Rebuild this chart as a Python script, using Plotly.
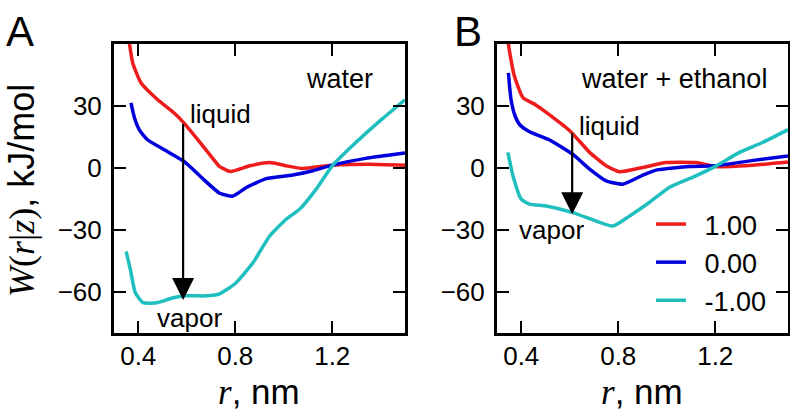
import plotly.graph_objects as go

# ---------------- data ----------------
rA_red = [0.35, 0.363, 0.377, 0.411, 0.479, 0.548, 0.589, 0.657, 0.712, 0.736, 0.78, 0.86, 0.942, 1.01, 1.078, 1.2, 1.352, 1.5]
wA_red = [68, 60.6, 50.9, 41.2, 33.1, 26.6, 21.7, 12, 3.9, 0.6, -1.8, 1, 2.6, 1, -0.3, 1.3, 1.8, 1.3]
rA_blue = [0.37, 0.385, 0.404, 0.438, 0.507, 0.589, 0.671, 0.736, 0.79, 0.846, 0.928, 1.037, 1.12, 1.2, 1.338, 1.5]
wA_blue = [31.5, 24, 18.5, 13.6, 8.8, 3.1, -5.8, -12.3, -13.7, -9.5, -5.2, -3.5, -1.4, 1.3, 4.6, 7.2]
rA_cyan = [0.35, 0.367, 0.388, 0.42, 0.478, 0.544, 0.6, 0.683, 0.736, 0.8, 0.873, 0.942, 1.01, 1.065, 1.133, 1.2, 1.283, 1.406, 1.5]
wA_cyan = [-40.5, -49, -60.5, -65.3, -65.3, -62.9, -62, -62, -61, -56, -46, -33, -24.9, -20.1, -10.4, 1, 10.7, 23.7, 33]

rB_red = [0.345, 0.348, 0.371, 0.407, 0.46, 0.503, 0.6, 0.682, 0.75, 0.805, 0.902, 0.997, 1.12, 1.2, 1.327, 1.5]
wB_red = [66, 59.3, 44.7, 34, 30.5, 26.9, 18, 7.5, 1, -1.9, 0.2, 2.6, 2.6, 0.7, 1, 2.8]
rB_blue = [0.347, 0.358, 0.375, 0.393, 0.434, 0.517, 0.613, 0.682, 0.75, 0.819, 0.902, 0.96, 1.093, 1.2, 1.35, 1.5]
wB_blue = [46, 33, 25, 21, 17.5, 13.5, 6.5, -0.6, -6.3, -7.9, -3.5, -1, 0.7, 1, 3.5, 5.8]
rB_cyan = [0.345, 0.366, 0.4, 0.434, 0.503, 0.613, 0.709, 0.778, 0.847, 0.928, 1.01, 1.12, 1.2, 1.3, 1.395, 1.5]
wB_cyan = [7.5, -3.9, -15.2, -17.6, -18.5, -21.7, -25.8, -28.2, -23.3, -16.8, -9.5, -3.9, 0.7, 7.5, 12.3, 18.5]

series_names = ["1.00", "0.00", "-1.00"]
colors = ["#ee1c1c", "#0000dd", "#20bfbf"]

x_ticks = [0.4, 0.8, 1.2]
y_ticks = [30, 0, -30, -60]
x_range = [0.3, 1.5]
y_range = [-80, 60]

# arrows: (x, y_start, y_end)
arrowA = (0.585, 22, -64)
arrowB = (0.61, 17.5, -22.5)

FONT = "Liberation Sans, Arial, Helvetica, sans-serif"
SERIF = "Liberation Serif, Times New Roman, serif"

fig = go.Figure()

panelA = [(rA_red, wA_red), (rA_blue, wA_blue), (rA_cyan, wA_cyan)]
panelB = [(rB_red, wB_red), (rB_blue, wB_blue), (rB_cyan, wB_cyan)]

for (r, w), name, c in zip(panelA, series_names, colors):
    fig.add_trace(go.Scatter(x=r, y=w, mode="lines", name=name, showlegend=False,
                             line=dict(color=c, width=3.5, shape="spline", smoothing=0.5),
                             xaxis="x", yaxis="y"))
for (r, w), name, c in zip(panelB, series_names, colors):
    fig.add_trace(go.Scatter(x=r, y=w, mode="lines", name="\u2002" + name, showlegend=True,
                             line=dict(color=c, width=3.5, shape="spline", smoothing=0.5),
                             xaxis="x2", yaxis="y2"))

W = 790
H = 412

def px(x):
    return x / W
def py(y):
    return 1 - y / H
def dom_x(a, b):
    return [px(a), px(b)]
def dom_y(top, bottom):
    return [py(bottom), py(top)]

axis_common = dict(showgrid=False, zeroline=False, showline=True, linecolor="black", linewidth=3,
                   mirror="ticks", ticks="inside", ticklen=12, tickwidth=2, tickcolor="black",
                   automargin=False,
                   tickfont=dict(family=FONT, size=26, color="black"))

fig.update_layout(
    template="none",
    width=W, height=H, margin=dict(l=0, r=0, t=0, b=0, pad=0),
    paper_bgcolor="white", plot_bgcolor="white",
    xaxis=dict(domain=dom_x(114, 405), range=x_range, tickvals=x_ticks, ticktext=[f"{v:.1f}" for v in x_ticks],
               anchor="y", ticklabelstandoff=-2, **axis_common),
    yaxis=dict(domain=dom_y(44, 333), range=y_range, tickvals=y_ticks, anchor="x", ticklabelstandoff=4, **axis_common),
    xaxis2=dict(domain=dom_x(497, 788), range=x_range, tickvals=x_ticks, ticktext=[f"{v:.1f}" for v in x_ticks],
                anchor="y2", ticklabelstandoff=-2, **axis_common),
    yaxis2=dict(domain=dom_y(44, 333), range=y_range, tickvals=y_ticks, anchor="x2", ticklabelstandoff=4, **axis_common),
    legend=dict(x=px(651), y=py(200), xanchor="left", yanchor="top", bgcolor="rgba(0,0,0,0)",
                font=dict(family=FONT, size=27, color="black"), itemwidth=30, tracegroupgap=0),
    showlegend=True,
)

ann = []
big = dict(family=FONT, size=42, color="black")
# panel letters
ann.append(dict(text="A", x=px(20), y=py(32), xref="paper", yref="paper", showarrow=False,
                xanchor="center", yanchor="middle", font=big))
ann.append(dict(text="B", x=px(468), y=py(32), xref="paper", yref="paper", showarrow=False,
                xanchor="center", yanchor="middle", font=big))
# axis titles
ytitle = f"<span style=\"font-family:{SERIF}\"><i>W</i>(<i>r</i>|<i>z</i>)</span>, kJ/mol"
ann.append(dict(text=ytitle, x=px(21), y=py(191), xref="paper", yref="paper", showarrow=False,
                xanchor="center", yanchor="middle",
                textangle=-90, font=dict(family=FONT, size=36, color="black")))
xtitle = f"<span style=\"font-family:{SERIF}\"><i>r</i></span>, nm"
for cx in (259, 642):
    ann.append(dict(text=xtitle, x=px(cx), y=py(392), xref="paper", yref="paper", showarrow=False,
                    xanchor="center", yanchor="middle",
                    font=dict(family=FONT, size=35, color="black")))
# in-panel texts
tf = dict(family=FONT, size=27, color="black")
tf2 = dict(family=FONT, size=26, color="black")
ann.append(dict(text="water", x=1.23, y=43, xref="x", yref="y", showarrow=False, font=tf))
ann.append(dict(text="liquid", x=0.738, y=26, xref="x", yref="y", showarrow=False, font=tf2))
ann.append(dict(text="vapor", x=0.613, y=-72.5, xref="x", yref="y", showarrow=False, font=tf2))
ann.append(dict(text="water + ethanol", x=1.03, y=43, xref="x2", yref="y2", showarrow=False, font=tf))
ann.append(dict(text="liquid", x=0.763, y=20.5, xref="x2", yref="y2", showarrow=False, font=tf2))
ann.append(dict(text="vapor", x=0.524, y=-30, xref="x2", yref="y2", showarrow=False, font=tf2))
# arrows
for (ax_x, y0, y1), xr, yr in ((arrowA, "x", "y"), (arrowB, "x2", "y2")):
    ann.append(dict(x=ax_x, y=y1, ax=ax_x, ay=y0, xref=xr, yref=yr, axref=xr, ayref=yr, text="",
                    showarrow=True, arrowhead=2, arrowsize=2.0, arrowwidth=2.2, arrowcolor="black"))

fig.update_layout(annotations=ann)
fig.write_html("out.html", config={"displayModeBar": False},
               post_script="document.body.style.margin='0';document.documentElement.style.margin='0';")
